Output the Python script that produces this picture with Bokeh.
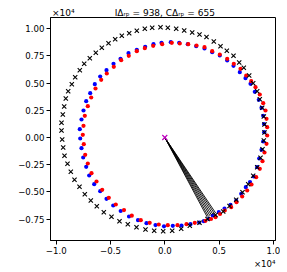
from bokeh.plotting import figure
from bokeh.models import Range1d, FixedTicker, CustomJSTickFormatter, Title
from bokeh.embed import file_html
from bokeh.resources import INLINE

black_x = [-9457, -9521, -9521, -9401, -9272, -9125, -8904, -8572, -8258, -7834, -7429, -6913, -6360,
           -5807, -5189, -4572, -3963, -3281, -2581, -1843, -1161, -396, 277, 1051, 1788, 2525, 3198,
           3844, 4516, 5134, 5715, 6332, 6857, 7281, 7779, 8148, 8517, 8756, 8977, 9125, 9189, 9189,
           9125, 9005, 8821, 8517, 8148, 7687, 7162, 6581, 5963, 5383, 4673, 3936, 3198, 2304, 1512,
           682, -147, -977, -1779, -2608, -3410, -4175, -4913, -5622, -6268, -6821, -7374, -7862,
           -8323, -8664, -8968, -9245, -9365]
black_y = [-184, 643, 1351, 2114, 2849, 3584, 4255, 4899, 5542, 6186, 6774, 7288, 7785, 8244, 8667,
           9035, 9347, 9586, 9807, 9991, 10083, 10138, 10083, 9991, 9834, 9651, 9467, 9237, 8823,
           8391, 7969, 7509, 6893, 6406, 5698, 4991, 4255, 3520, 2730, 1930, 1195, 460, -276, -1075,
           -1866, -2730, -3520, -4292, -5027, -5726, -6296, -6801, -7123, -7491, -7840, -8116, -8391,
           -8575, -8612, -8575, -8456, -8244, -7969, -7693, -7288, -6866, -6314, -5790, -5211, -4531,
           -3888, -3153, -2417, -1682, -919]

blue_x = [-7797, -7834, -7678, -7493, -7245, -6876, -6452, -5954, -5373, -4728, -4083, -3346, -2581,
          -1807, -1042, -304, 553, 1327, 2120, 2894, 3659, 4369, 5069, 5751, 6332, 6913, 7438, 7899,
          8295, 8664, 8913, 9070, 9143, 9162, 9070, 8913, 8701, 8517, 8203, 7853, 7466, 7042, 6581,
          6056, 5503, 4977, 4424, 4055, 3595, 3171, 2369, 1539, 737, -74, -857, -1687, -2470, -3300,
          -4065, -4756, -5373, -5954, -6507, -6968, -7245, -7521, -7678]
blue_y = [-92, 763, 1654, 2482, 3336, 4072, 4899, 5607, 6186, 6774, 7233, 7748, 8060, 8336, 8575,
          8704, 8759, 8704, 8575, 8391, 8180, 7840, 7537, 7077, 6590, 6002, 5450, 4936, 4200, 3465,
          2730, 1994, 1241, 487, -368, -1131, -1930, -2730, -3584, -4090, -4568, -5174, -5790, -6186,
          -6526, -6866, -7169, -7472, -7693, -7812, -7969, -8088, -8116, -8162, -8051, -7877, -7601,
          -7261, -6755, -6250, -5634, -4936, -4292, -3493, -2693, -1838, -983]

red_x = [-7558, -7493, -7374, -7097, -6784, -6387, -5862, -5346, -4701, -4019, -3318, -2581, -1843,
         -1069, -240, 645, 1383, 2157, 2922, 3659, 4369, 5069, 5751, 6360, 6977, 7503, 7963, 8360,
         8756, 9070, 9282, 9374, 9438, 9438, 9374, 9189, 9005, 8756, 8424, 7991, 7595, 7134, 6609,
         6120, 5530, 5088, 4673, 4258, 3751, 2765, 2000, 1171, 277, -553, -1392, -2212, -3042, -3761,
         -4516, -5162, -5770, -6295, -6756, -7097, -7337, -7466]
red_y = [248, 1075, 1994, 2877, 3676, 4504, 5303, 5882, 6498, 7105, 7509, 7932, 8208, 8428, 8575,
         8704, 8640, 8575, 8456, 8299, 7932, 7629, 7233, 6774, 6314, 5698, 5175, 4623, 3952, 3153,
         2482, 1719, 947, 184, -579, -1379, -2178, -2877, -3649, -4320, -4871, -5423, -5947, -6406,
         -6709, -7031, -7325, -7491, -7656, -7840, -7969, -8061, -8061, -7996, -7840, -7601, -7187,
         -6673, -6158, -5542, -4807, -4044, -3281, -2390, -1590, -616]

center_x = [0]
center_y = [0]
ray_x = [3908, 4028, 4166, 4304, 4443, 4581, 4701]
ray_y = [-7307, -7261, -7197, -7141, -7077, -7013, -6958]

x_ticks = [-10000, -5000, 0, 5000, 10000]
y_ticks = [-7500, -5000, -2500, 0, 2500, 5000, 7500, 10000]
I_val, C_val = 938, 655
offset_label = "\u00d710\u2074"
title_label = "I\u0394\u1d63\u209a = %d, C\u0394\u1d63\u209a = %d" % (I_val, C_val)

# ---- geometry ----
X0, X1 = -10535, 10203
Y0, Y1 = -9467, 11029
FONT = "DejaVu Sans"

top_text = offset_label + "\u00a0" * 14 + title_label

p = figure(width=280, height=270, output_backend="svg", toolbar_location=None, title=top_text,
           x_range=Range1d(X0, X1), y_range=Range1d(Y0, Y1),
           min_border_left=50, min_border_right=5, min_border_top=17, min_border_bottom=30)
p.title.align = "left"
p.title.offset = 1.5
p.title.standoff = 0
p.title.text_font = FONT
p.title.text_font_size = "9px"
p.title.text_font_style = "normal"
p.title.text_color = "black"

p.xgrid.visible = False
p.ygrid.visible = False
p.outline_line_color = "black"
p.outline_line_width = 1
p.background_fill_color = "white"
p.border_fill_color = "white"

for ax, ticks, nd in ((p.xaxis[0], x_ticks, 1), (p.yaxis[0], y_ticks, 2)):
    ax.ticker = FixedTicker(ticks=ticks, minor_ticks=[])
    ax.formatter = CustomJSTickFormatter(
        code="return (tick/1e4).toFixed(%d).replace('-', '\u2212');" % nd)
    ax.major_tick_in = 0
    ax.major_tick_out = 4
    ax.minor_tick_out = 0
    ax.minor_tick_in = 0
    ax.major_label_standoff = 2
    ax.major_label_text_font = FONT
    ax.major_label_text_font_size = "8.6px"
    ax.major_label_text_color = "black"
    ax.axis_line_color = "black"
    ax.major_tick_line_color = "black"

p.add_layout(Title(text=offset_label, align="right", offset=0, standoff=0, text_font=FONT,
                   text_font_size="8.6px", text_font_style="normal", text_color="black"), "below")

p.scatter(blue_x, blue_y, size=4.2, fill_color="#0000ff", line_color=None)
p.scatter(red_x, red_y, size=4.2, fill_color="#ff0000", line_color=None)
p.scatter(black_x, black_y, marker="x", size=6, line_color="black", line_width=1.1)
p.segment(x0=center_x * len(ray_x), y0=center_y * len(ray_y), x1=ray_x, y1=ray_y,
          line_color="black", line_width=0.9)
p.scatter(center_x, center_y, marker="x", size=7, line_color="#bf00bf", line_width=1.2)

open("out.html", "w").write(file_html(p, INLINE))
